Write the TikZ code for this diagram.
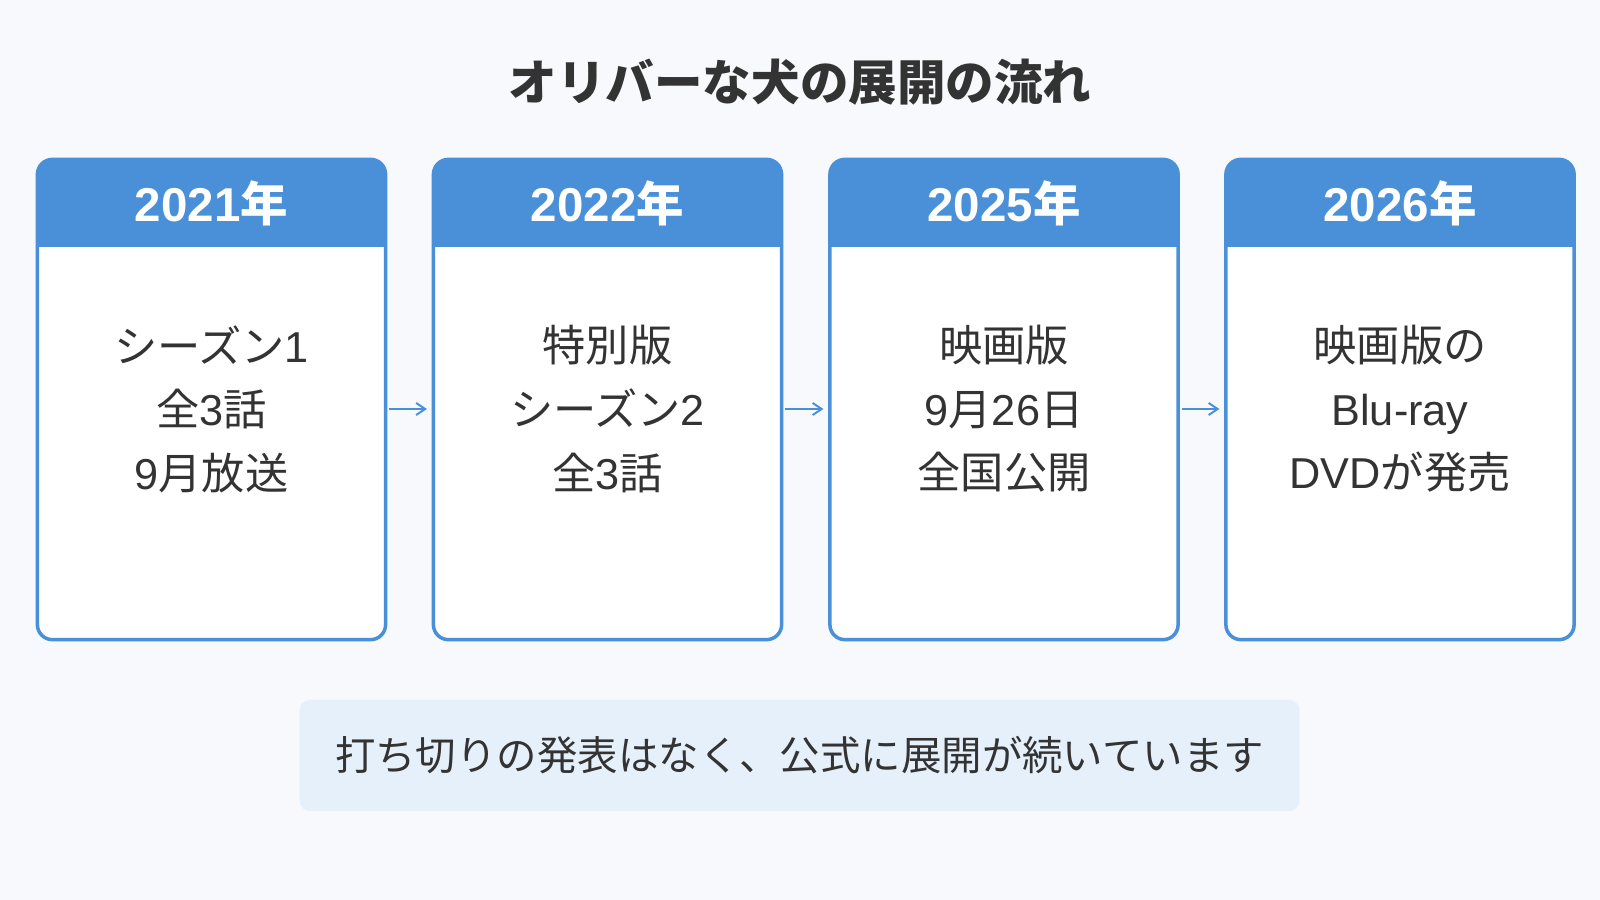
\documentclass[tikz,border=0pt]{standalone}
\usepackage{fontspec}
\setmainfont{Liberation Sans}
\newfontfamily\jp{Noto Sans CJK JP}
\usepackage{tikz}
\usetikzlibrary{
    arrows.meta,
    positioning,
    calc
}
\usepackage{xcolor}
\definecolor{headblue}{HTML}{4A90D9}
\definecolor{pagebg}{HTML}{F7F9FC}
\definecolor{notebg}{HTML}{E6F0FB}
\definecolor{inkgray}{HTML}{333333}
\tikzstyle{card} = [
    rectangle,
    rounded corners=0.15cm,
    draw=headblue,
    line width=1pt,
    fill=white,
    minimum width=3.48cm,
    minimum height=4.80cm,
    inner sep=0pt,
    outer sep=0pt
]
\tikzstyle{yearhead} = [
    rectangle,
    rounded corners=0.15cm,
    fill=headblue,
    minimum width=3.48cm,
    minimum height=0.875cm,
    inner sep=0pt,
    outer sep=0pt,
    text=white,
    font=\fontsize{13.5pt}{16pt}\selectfont\bfseries
]
\tikzstyle{cardtext} = [
    align=center,
    text=inkgray,
    inner sep=0pt,
    font=\fontsize{12.3pt}{18.07pt}\selectfont
]
\tikzstyle{note} = [
    rectangle,
    rounded corners=0.1cm,
    fill=notebg,
    minimum width=9.99cm,
    minimum height=1.11cm,
    text=inkgray,
    font=\fontsize{11.5pt}{14pt}\selectfont\jp
]
\tikzstyle{flow} = [
    -{Straight Barb[length=0.09cm, width=0.12cm]},
    line width=0.55pt,
    draw=headblue,
    shorten <=0.035cm,
    shorten >=0.065cm
]

\begin{document}
\begin{tikzpicture}[x=0.01cm, y=-0.01cm]
        % page
        \fill[pagebg] (0,0) rectangle (1600,900);

        % title
        \node[text=inkgray, font=\fontsize{13.8pt}{16pt}\selectfont\jp\bfseries] (title) at (800,82) {オリバーな犬の展開の流れ};

        % 2021
        \node[card] (c1) at (211.5,399.5) {};
        \fill[headblue] ($(c1.north west)+(0,40)$) rectangle ($(c1.north east)+(0,87.5)$);
        \node[yearhead, anchor=north] (h1) at (c1.north) {2021{\jp 年}};
        \node[cardtext] (t1) at (211.5,409) {{\jp シーズン}1\\{\jp 全}3{\jp 話}\\9{\jp 月放送}};

        % 2022
        \node[card] (c2) at (607.5,399.5) {};
        \fill[headblue] ($(c2.north west)+(0,40)$) rectangle ($(c2.north east)+(0,87.5)$);
        \node[yearhead, anchor=north] (h2) at (c2.north) {2022{\jp 年}};
        \node[cardtext] (t2) at (607.5,409) {{\jp 特別版}\\{\jp シーズン}2\\{\jp 全}3{\jp 話}};

        % 2025
        \node[card] (c3) at (1004,399.5) {};
        \fill[headblue] ($(c3.north west)+(0,40)$) rectangle ($(c3.north east)+(0,87.5)$);
        \node[yearhead, anchor=north] (h3) at (c3.north) {2025{\jp 年}};
        \node[cardtext] (t3) at (1004,409) {{\jp 映画版}\\9{\jp 月}26{\jp 日}\\{\jp 全国公開}};

        % 2026
        \node[card] (c4) at (1400,399.5) {};
        \fill[headblue] ($(c4.north west)+(0,40)$) rectangle ($(c4.north east)+(0,87.5)$);
        \node[yearhead, anchor=north] (h4) at (c4.north) {2026{\jp 年}};
        \node[cardtext] (t4) at (1400,409) {{\jp 映画版の}\\Blu-ray\\DVD{\jp が発売}};

        % arrows between cards
        \draw[flow] (c1.east |- t1.center) -- (c2.west |- t2.center);
        \draw[flow] (c2.east |- t2.center) -- (c3.west |- t3.center);
        \draw[flow] (c3.east |- t3.center) -- (c4.west |- t4.center);

        % bottom note
        \node[note] (msg) at (799.5,755.5) {打ち切りの発表はなく、公式に展開が続いています};
    \end{tikzpicture}
\end{document}
